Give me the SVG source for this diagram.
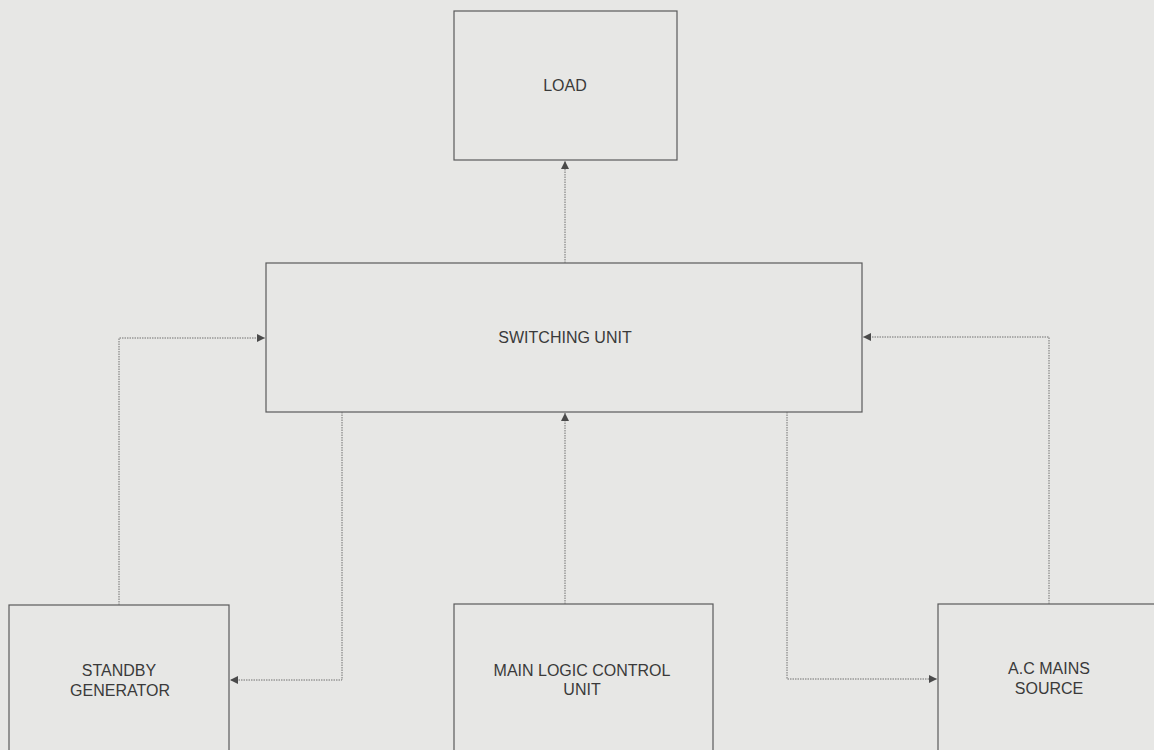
<svg xmlns="http://www.w3.org/2000/svg" width="1154" height="750" viewBox="0 0 1154 750">
<defs>
<marker id="ah" viewBox="0 0 10 10" refX="10" refY="5" markerWidth="11" markerHeight="8" markerUnits="userSpaceOnUse" orient="auto">
<path d="M0,0 L10,5 L0,10 z" fill="#4a4a4a"/>
</marker>
<style>
.box{fill:none;stroke:#5a5a5a;stroke-width:1.2}
.lbl{font-family:"Liberation Sans",Arial,sans-serif;font-size:16px;fill:#3a3a3a;text-anchor:middle}
.con{fill:none;stroke:#707070;stroke-width:1;stroke-dasharray:1.5 1}
</style>
</defs>
<rect width="1154" height="750" fill="#e7e7e5"/>
<g id="load"><rect class="box" x="454" y="11" width="223" height="149"/><text class="lbl" x="565" y="91">LOAD</text></g>
<g id="switching-unit"><rect class="box" x="266" y="263" width="596" height="149"/><text class="lbl" x="565" y="343">SWITCHING UNIT</text></g>
<g id="standby-generator"><rect class="box" x="9" y="605" width="220" height="160"/><text class="lbl" x="119" y="676">STANDBY</text><text class="lbl" x="120" y="696">GENERATOR</text></g>
<g id="main-logic"><rect class="box" x="454" y="604" width="259" height="160"/><text class="lbl" x="582" y="676">MAIN LOGIC CONTROL</text><text class="lbl" x="582" y="695">UNIT</text></g>
<g id="ac-mains"><rect class="box" x="938" y="604" width="230" height="160"/><text class="lbl" x="1049" y="674">A.C MAINS</text><text class="lbl" x="1049" y="694">SOURCE</text></g>
<g id="connectors">
<path class="con" d="M565,263 V161" marker-end="url(#ah)"/>
<path class="con" d="M119,605 V338 H265" marker-end="url(#ah)"/>
<path class="con" d="M342,412 V680 H230" marker-end="url(#ah)"/>
<path class="con" d="M565,604 V413" marker-end="url(#ah)"/>
<path class="con" d="M1049,604 V337 H863" marker-end="url(#ah)"/>
<path class="con" d="M787,412 V679 H937" marker-end="url(#ah)"/>
</g>
</svg>
